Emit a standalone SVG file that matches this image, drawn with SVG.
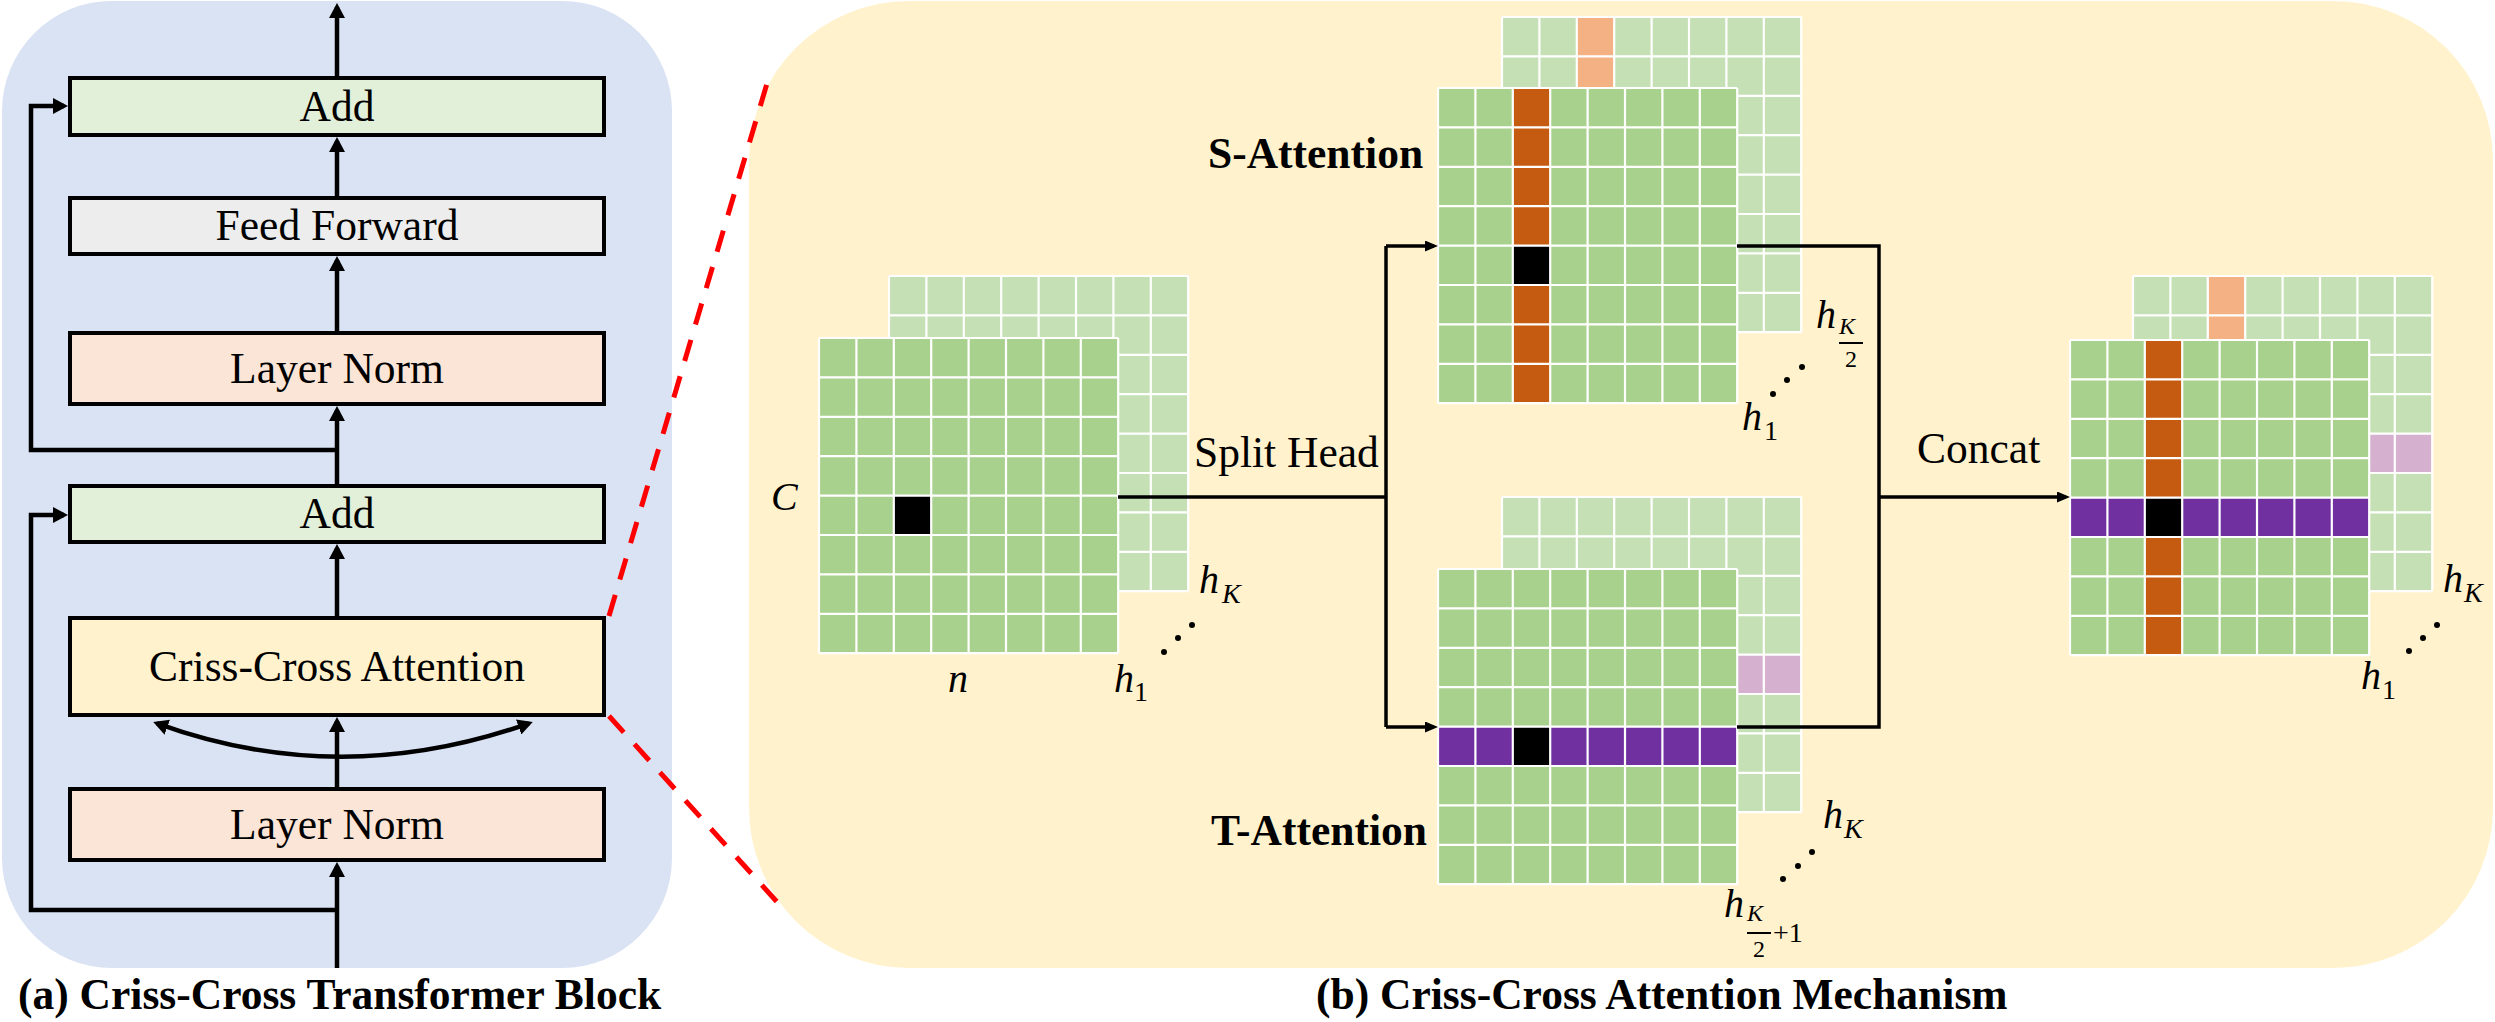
<svg xmlns="http://www.w3.org/2000/svg" xmlns:xlink="http://www.w3.org/1999/xlink" width="2495" height="1022" viewBox="0 0 2495 1022" font-family="'Liberation Serif', 'Times New Roman', 'DejaVu Serif', serif">
<style>
text{font-family:'Liberation Serif','Times New Roman','DejaVu Serif',serif}
.t{font-size:43.5px;fill:#000}
.c{text-anchor:middle}
.b{font-weight:bold}
.m{font-style:italic;font-size:40px;fill:#000}
.s{font-size:28px}
.ss{font-size:24px}
.box{stroke:#000;stroke-width:4}
.lk{fill:none;stroke:#000;stroke-width:4.5}
.lr{fill:none;stroke:#000;stroke-width:3.5}
.red{fill:none;stroke:#FF0000;stroke-width:5;stroke-dasharray:22 16}
.fg{fill:#A9D18E}
.bg{fill:#C5E0B4}
</style>
<defs>
<marker id="ahL" markerUnits="userSpaceOnUse" markerWidth="16" markerHeight="16" refX="11" refY="8" orient="auto-start-reverse">
<path d="M0,0 L15,8 L0,16 z" fill="#000"/>
</marker>
<marker id="ahR" markerUnits="userSpaceOnUse" markerWidth="14" markerHeight="12" refX="9" refY="5.5" orient="auto">
<path d="M0,0 L13,5.5 L0,11 z" fill="#000"/>
</marker>
<path id="gl" fill="none" stroke="#FFFFFF" stroke-width="2.2" d="M0,0V315.2M37.4,0V315.2M74.8,0V315.2M112.2,0V315.2M149.6,0V315.2M187,0V315.2M224.4,0V315.2M261.8,0V315.2M299.2,0V315.2M0,0H299.2M0,39.4H299.2M0,78.8H299.2M0,118.2H299.2M0,157.6H299.2M0,197H299.2M0,236.4H299.2M0,275.8H299.2M0,315.2H299.2"/>
</defs>

<!-- panels -->
<rect id="panel-a" x="2" y="1" width="670" height="967" rx="110" ry="110" fill="#DAE3F3"/>
<rect id="panel-b" x="749" y="1" width="1744" height="967" rx="160" ry="160" fill="#FFF2CC"/>

<!-- left block nodes -->
<g id="add1"><rect class="box" x="70" y="78" width="534" height="57" fill="#E2F0D9"/><text class="t c" x="337" y="121">Add</text></g>
<g id="ff"><rect class="box" x="70" y="198" width="534" height="56" fill="#EDEDED"/><text class="t c" x="337" y="240">Feed Forward</text></g>
<g id="ln1"><rect class="box" x="70" y="333" width="534" height="71" fill="#FBE5D6"/><text class="t c" x="337" y="383">Layer Norm</text></g>
<g id="add2"><rect class="box" x="70" y="486" width="534" height="56" fill="#E2F0D9"/><text class="t c" x="337" y="528">Add</text></g>
<g id="cca"><rect class="box" x="70" y="618" width="534" height="97" fill="#FFF2CC"/><text class="t c" x="337" y="681">Criss-Cross Attention</text></g>
<g id="ln2"><rect class="box" x="70" y="789" width="534" height="71" fill="#FBE5D6"/><text class="t c" x="337" y="839">Layer Norm</text></g>

<!-- grids -->
<g id="input-grid">
<g transform="translate(889,276)"><rect class="bg" width="299.2" height="315.2"/><use xlink:href="#gl"/></g>
<g transform="translate(819,338)"><rect class="fg" width="299.2" height="315.2"/><rect x="74.8" y="157.6" width="37.4" height="39.4" fill="#000"/><use xlink:href="#gl"/></g>
</g>
<g id="s-grid">
<g transform="translate(1502,17)"><rect class="bg" width="299.2" height="315.2"/><rect x="74.8" y="0" width="37.4" height="315.2" fill="#F4B183"/><use xlink:href="#gl"/></g>
<g transform="translate(1438,88)"><rect class="fg" width="299.2" height="315.2"/><rect x="74.8" y="0" width="37.4" height="315.2" fill="#C55A11"/><rect x="74.8" y="157.6" width="37.4" height="39.4" fill="#000"/><use xlink:href="#gl"/></g>
</g>
<g id="t-grid">
<g transform="translate(1502,497)"><rect class="bg" width="299.2" height="315.2"/><rect x="0" y="157.6" width="299.2" height="39.4" fill="#D5B0CF"/><use xlink:href="#gl"/></g>
<g transform="translate(1438,569)"><rect class="fg" width="299.2" height="315.2"/><rect x="0" y="157.6" width="299.2" height="39.4" fill="#7030A0"/><rect x="74.8" y="157.6" width="37.4" height="39.4" fill="#000"/><use xlink:href="#gl"/></g>
</g>
<g id="out-grid">
<g transform="translate(2133,276)"><rect class="bg" width="299.2" height="315.2"/><rect x="74.8" y="0" width="37.4" height="315.2" fill="#F4B183"/><rect x="0" y="157.6" width="299.2" height="39.4" fill="#D5B0CF"/><use xlink:href="#gl"/></g>
<g transform="translate(2070,340)"><rect class="fg" width="299.2" height="315.2"/><rect x="74.8" y="0" width="37.4" height="315.2" fill="#C55A11"/><rect x="0" y="157.6" width="299.2" height="39.4" fill="#7030A0"/><rect x="74.8" y="157.6" width="37.4" height="39.4" fill="#000"/><use xlink:href="#gl"/></g>
</g>

<!-- connectors -->
<g id="connectors">
<path class="lk" d="M337,76 V7" marker-end="url(#ahL)"/>
<path class="lk" d="M337,196 V141" marker-end="url(#ahL)"/>
<path class="lk" d="M337,331 V260" marker-end="url(#ahL)"/>
<path class="lk" d="M337,484 V410" marker-end="url(#ahL)"/>
<path class="lk" d="M337,450 H31 V106 H64" marker-end="url(#ahL)"/>
<path class="lk" d="M337,616 V548" marker-end="url(#ahL)"/>
<path class="lk" d="M337,787 V721" marker-end="url(#ahL)"/>
<path class="lk" d="M157,723.4 Q340,790 529,723.3" marker-start="url(#ahL)" marker-end="url(#ahL)"/>
<path class="lk" d="M337,968 V866" marker-end="url(#ahL)"/>
<path class="lk" d="M337,910 H31 V515 H64" marker-end="url(#ahL)"/>
<path class="red" d="M609,616 L768,80"/>
<path class="red" d="M609,716 L778,903"/>
<path class="lr" d="M1118,497 H1386"/>
<path class="lr" d="M1386,246 V727"/>
<path class="lr" d="M1386,246 H1434" marker-end="url(#ahR)"/>
<path class="lr" d="M1386,727 H1434" marker-end="url(#ahR)"/>
<path class="lr" d="M1737,246 H1879 V727 H1737"/>
<path class="lr" d="M1879,497 H2066" marker-end="url(#ahR)"/>
</g>

<!-- labels -->
<g id="labels">
<text class="t" x="1194" y="467">Split Head</text>
<text class="t" x="1917" y="463">Concat</text>
<text class="t b" x="1208" y="168">S-Attention</text>
<text class="t b" x="1211" y="845">T-Attention</text>
<text class="m" x="771" y="510">C</text>
<text class="m" x="948" y="692">n</text>
<text class="m" x="1199" y="593">h</text><text class="m s" x="1222" y="603">K</text>
<text class="m" x="1114" y="692">h</text><text class="t s" x="1134" y="701">1</text>
<circle cx="1164" cy="652" r="3"/><circle cx="1178" cy="638" r="3"/><circle cx="1192" cy="625" r="3"/>
<text class="m" x="1816" y="328">h</text><text class="m ss" x="1839" y="334">K</text>
<path d="M1839,343 H1863" stroke="#000" stroke-width="2"/>
<text class="t ss c" x="1851" y="367">2</text>
<text class="m" x="1742" y="430">h</text><text class="t s" x="1764" y="440">1</text>
<circle cx="1773" cy="394" r="3"/><circle cx="1787" cy="380" r="3"/><circle cx="1802" cy="367" r="3"/>
<text class="m" x="1823" y="828">h</text><text class="m s" x="1844" y="838">K</text>
<circle cx="1783" cy="879" r="3"/><circle cx="1798" cy="866" r="3"/><circle cx="1812" cy="852" r="3"/>
<text class="m" x="1724" y="917">h</text><text class="m ss" x="1747" y="921">K</text>
<path d="M1747,933 H1771" stroke="#000" stroke-width="2"/>
<text class="t ss c" x="1759" y="957">2</text>
<text class="t s" x="1773" y="942">+1</text>
<text class="m" x="2443" y="592">h</text><text class="m s" x="2464" y="602">K</text>
<circle cx="2409" cy="651" r="3"/><circle cx="2423" cy="638" r="3"/><circle cx="2437" cy="625" r="3"/>
<text class="m" x="2361" y="689">h</text><text class="t s" x="2382" y="699">1</text>
<text class="t b" x="18" y="1009">(a) Criss-Cross Transformer Block</text>
<text class="t b" x="1316" y="1009">(b) Criss-Cross Attention Mechanism</text>
</g>
</svg>
